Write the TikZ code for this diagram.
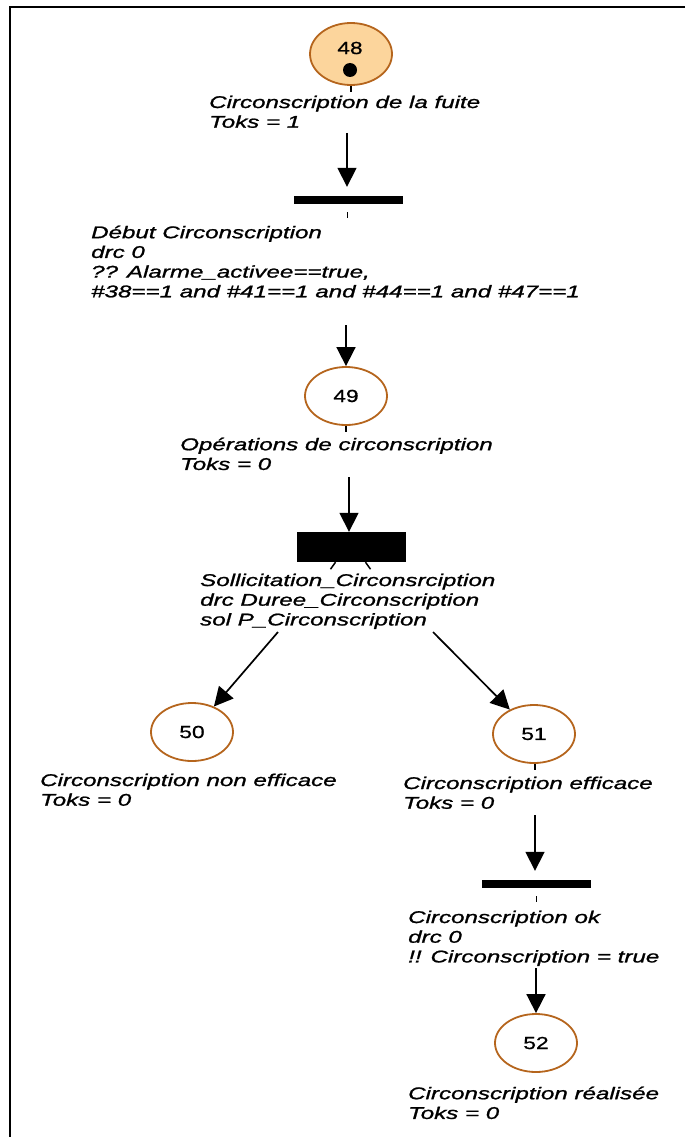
\documentclass[tikz,border=0pt]{standalone}
\usepackage{fontspec}
\setmainfont{Liberation Sans}
\newfontfamily\labfont[FakeStretch=1.42,FakeBold=1.2]{Liberation Sans}
\newfontfamily\numfont[FakeStretch=1.3,FakeBold=0.8]{Liberation Sans}
\usetikzlibrary{shapes.geometric,arrows.meta}
\definecolor{placeedge}{HTML}{B5651D}
\definecolor{placefill}{HTML}{FCD59C}

\tikzset{
  place/.style={ellipse,draw=placeedge,line width=1.8pt,minimum width=82pt,
    minimum height=58pt,inner sep=0pt,font=\numfont\fontsize{17.5}{19}\selectfont},
  tbar/.style={rectangle,fill=black,minimum width=109pt,minimum height=8pt,inner sep=0pt},
  lbl/.style={anchor=north west,align=left,inner sep=0pt,
    font=\labfont\itshape\fontsize{17}{19.7}\selectfont},
  arc/.style={-{Triangle[length=19pt,width=19pt]},line width=1.7pt},
  stub/.style={line width=1.5pt},
}

\begin{document}
\begin{tikzpicture}[x=1pt,y=-1pt]
\useasboundingbox (0,0) rectangle (685,1137);

% frame
\draw[line width=2.5pt] (685,7) -- (10,7) -- (10,1137);

% places
\node[place,fill=placefill,minimum height=62pt] (p48) at (351,54) {};
\node[font=\numfont\fontsize{17.5}{19}\selectfont,inner sep=0pt] (n48) at (350,48) {48};
\node[circle,fill=black,minimum size=14pt,inner sep=0pt] (tok48) at (350,70) {};
\node[place] (p49) at (346,396) {49};
\node[place] (p50) at (192,732) {50};
\node[place] (p51) at (534,734) {51};
\node[place] (p52) at (536,1043) {52};

% transitions
\node[tbar] (t1) at (348.5,200) {};
\node[tbar,minimum height=30pt] (t2) at (351.5,547) {};
\node[tbar] (t3) at (536.5,884) {};

% labels
\node[lbl] (l48) at (209,95.5) {Circonscription de la fuite\\Toks = 1};
\node[lbl] (lt1) at (91,225.5) {Début Circonscription\\drc 0\\?? Alarme\_activee==true,\\\#38==1 and \#41==1 and \#44==1 and \#47==1};
\node[lbl] (l49) at (180,437.5) {Opérations de circonscription\\Toks = 0};
\node[lbl] (lt2) at (200,573.5) {Sollicitation\_Circonsrciption\\drc Duree\_Circonscription\\sol P\_Circonscription};
\node[lbl] (l50) at (40,773.5) {Circonscription non efficace\\Toks = 0};
\node[lbl] (l51) at (403,776.5) {Circonscription efficace\\Toks = 0};
\node[lbl] (lt3) at (408,910.5) {Circonscription ok\\drc 0\\!! Circonscription = true};
\node[lbl] (l52) at (408,1086.5) {Circonscription réalisée\\Toks = 0};

% short stubs below nodes
\draw[stub] (p48.south) -- ++(0,6);
\draw[stub] (t1.south) ++(-1,8) -- ++(0,6);
\draw[stub] (p49.south) -- ++(0,6);
\draw[stub] ([xshift=-16pt]t2.south) -- ++(-5,7);
\draw[stub] ([xshift=14pt]t2.south) -- ++(5,7);
\draw[stub] (p51.south) ++(1,0) -- ++(0,6);
\draw[stub] (t3.south) ++(0,8) -- ++(0,6);

% arcs
\coordinate (a1) at (347,133);
\coordinate (a2) at (346,325);
\coordinate (a3) at (349,477);
\coordinate (a4) at (278,632);
\coordinate (a5) at (433,632);
\coordinate (a6) at (535,815);
\coordinate (a7) at (536,968);
\draw[arc,shorten >=9pt] (a1) -- (a1 |- t1.north);
\draw[arc] (a2) -- (p49);
\draw[arc] (a3) -- (a3 |- t2.north);
\draw[arc] (a4) -- (p50);
\draw[arc] (a5) -- (p51);
\draw[arc,shorten >=9pt] (a6) -- (a6 |- t3.north);
\draw[arc] (a7) -- (p52);
\end{tikzpicture}
\end{document}
